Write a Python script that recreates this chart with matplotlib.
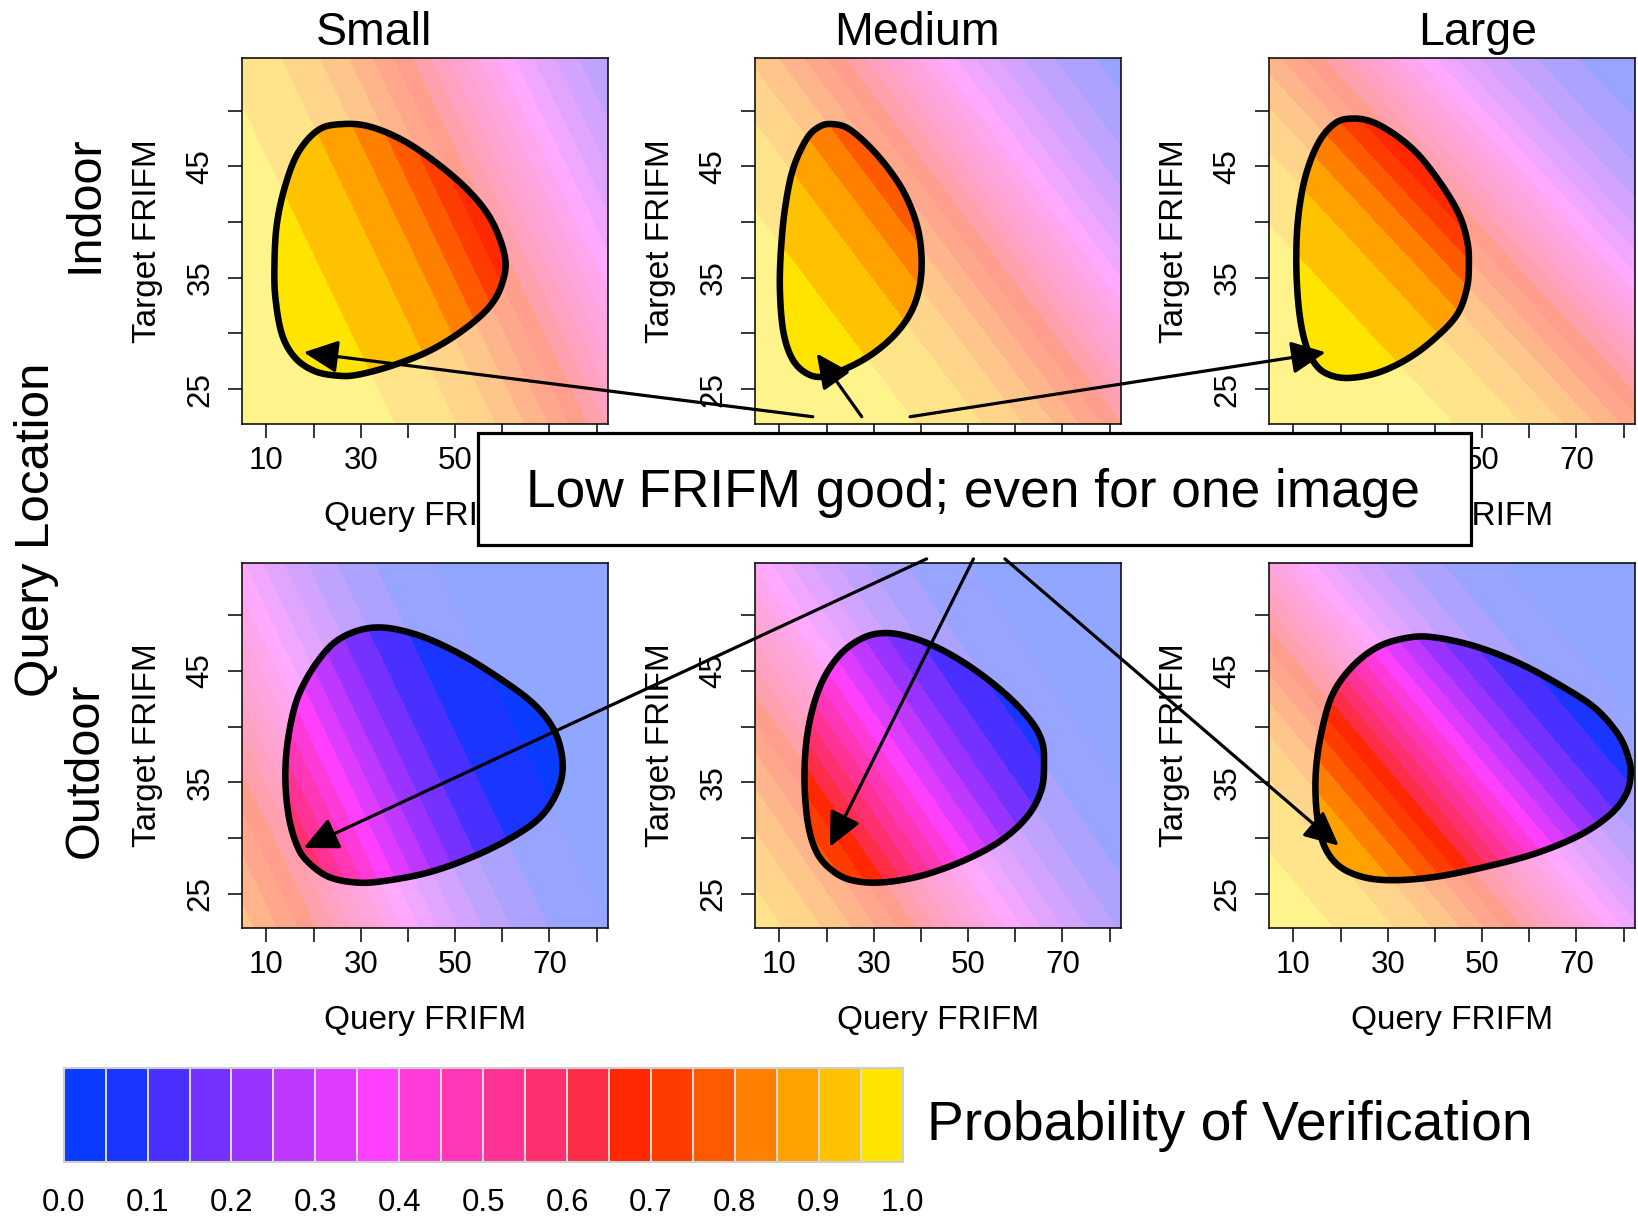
import matplotlib.pyplot as plt
import numpy as np
from matplotlib.colors import ListedColormap, to_rgb
from matplotlib.patches import Polygon, Rectangle, ConnectionPatch

plt.rcParams['font.family'] = ['Liberation Sans', 'DejaVu Sans']

# 20 colour bands for the probability, 0.05 wide each
band_colors = ['#0A3CFF', '#1A35FF', '#4A30FF', '#7431FF', '#9A33FF',
               '#BE38FF', '#DD3CFF', '#FF40FF', '#FF3AD8', '#FF36B6',
               '#FF3296', '#FF3070', '#FF2E48', '#FF2800', '#FF3C00',
               '#FF5A00', '#FF8000', '#FFA200', '#FFC200', '#FFE400']
levels = np.linspace(0, 1, 21)

sizes = ['Small', 'Medium', 'Large']
places = ['Indoor', 'Outdoor']

# logistic fit per panel (rows: Indoor, Outdoor; cols: Small, Medium, Large)
fit_intercept = [[6.46, 7.09, 7.75], [3.21, 4.75, 6.55]]
fit_query = [[-0.0568, -0.0533, -0.0522], [-0.0572, -0.0553, -0.0580]]
fit_target = [[-0.0644, -0.0949, -0.1148], [-0.0646, -0.0901, -0.1160]]

# outline of the observed FRIFM pairs in each panel
si_query = [60.6, 59.9, 57.1, 51.4, 44.4, 36.6, 29.5, 25.3, 20.3, 16.1, 13.3, 11.9,
            11.7, 12.2, 14.0, 16.8, 21.1, 26.0, 31.7, 38.7, 45.8, 52.9, 57.8]
si_target = [36.8, 34.4, 32.3, 30.2, 28.4, 27.1, 26.3, 26.2, 26.6, 27.8, 29.9, 33.2,
             36.2, 39.8, 43.3, 46.3, 48.3, 48.8, 48.6, 47.4, 45.4, 42.8, 40.1]
mi_query = [40.1, 39.8, 38.0, 34.5, 29.5, 23.9, 18.9, 15.4, 12.6, 10.8, 10.1, 10.3,
            11.2, 12.9, 15.8, 18.6, 21.4, 24.6, 28.8, 33.1, 36.6, 39.1]
mi_target = [37.1, 34.4, 32.0, 29.9, 28.1, 26.8, 26.1, 26.5, 27.8, 30.2, 33.8, 37.4,
             41.3, 44.8, 47.5, 48.6, 48.8, 48.4, 46.9, 44.8, 42.5, 39.8]
li_query = [47.2, 46.8, 44.7, 40.1, 34.5, 28.1, 21.8, 17.5, 14.7, 12.6, 11.2, 10.6,
            11.0, 12.6, 15.4, 18.9, 22.5, 26.7, 31.7, 36.6, 41.5, 45.1, 46.8]
li_target = [36.5, 34.1, 31.7, 29.6, 27.8, 26.5, 26.0, 26.3, 27.2, 29.0, 32.0, 36.2,
             40.4, 44.2, 47.2, 48.9, 49.3, 49.0, 47.8, 46.0, 43.3, 40.7, 38.4]
so_query = [72.8, 71.9, 68.4, 62.7, 54.3, 44.4, 34.5, 28.8, 23.2, 18.9, 16.5, 14.7,
            14.0, 14.7, 16.8, 21.1, 26.0, 33.1, 41.5, 50.7, 59.9, 67.0, 71.2]
so_target = [36.8, 34.4, 32.0, 30.2, 28.4, 26.9, 26.1, 26.0, 26.5, 27.8, 29.3, 32.0,
             35.6, 39.2, 42.8, 46.0, 48.0, 48.9, 48.3, 46.6, 44.2, 41.9, 39.5]
mo_query = [66.1, 65.6, 62.7, 57.1, 49.3, 40.1, 31.7, 25.3, 21.1, 17.9, 16.0, 15.3,
            16.1, 18.6, 22.5, 27.4, 32.4, 38.0, 44.4, 51.4, 58.5, 63.5, 65.7]
mo_target = [36.8, 34.4, 32.0, 29.8, 28.0, 26.6, 26.0, 26.2, 27.1, 28.7, 31.4, 35.6,
             39.8, 43.6, 46.3, 47.9, 48.4, 48.0, 46.9, 45.1, 42.7, 40.4, 38.6]
lo_query = [81.5, 80.4, 76.9, 70.5, 61.3, 50.7, 40.1, 31.0, 24.6, 19.6, 16.5, 15.0,
            14.7, 15.8, 18.2, 22.5, 28.1, 34.5, 40.1, 48.6, 57.8, 67.0, 74.1, 79.0, 81.1]
lo_target = [35.6, 33.8, 32.0, 30.2, 28.6, 27.4, 26.5, 26.2, 26.5, 27.5, 29.3, 32.0,
             35.6, 39.2, 42.8, 45.4, 47.2, 48.0, 48.0, 47.2, 45.7, 43.6, 41.6, 39.2, 37.1]

hull_query = [[si_query, mi_query, li_query], [so_query, mo_query, lo_query]]
hull_target = [[si_target, mi_target, li_target], [so_target, mo_target, lo_target]]

# low-FRIFM corner that the callout points at
arrow_query = [[17.9, 17.9, 16.8], [17.9, 20.7, 19.6]]
arrow_target = [[28.3, 28.2, 28.3], [29.1, 29.2, 29.3]]

x_range = (4.8, 82.4)
y_range = (21.9, 54.7)


def closed_curve(px, py, n=30):
    # periodic Catmull-Rom spline through the outline points
    pts = np.column_stack([px, py]).astype(float)
    m = len(pts)
    t = np.linspace(0, 1, n, endpoint=False)[:, None]
    segs = []
    for i in range(m):
        p0, p1, p2, p3 = pts[i - 1], pts[i], pts[(i + 1) % m], pts[(i + 2) % m]
        segs.append(0.5 * (2 * p1 + (p2 - p0) * t
                           + (2 * p0 - 5 * p1 + 4 * p2 - p3) * t ** 2
                           + (3 * p1 - p0 - 3 * p2 + p3) * t ** 3))
    return np.vstack(segs)


pale_colors = [tuple(1 - 0.45 * (1 - np.array(to_rgb(c)))) for c in band_colors]

fig = plt.figure(figsize=(16.38, 12.20), dpi=100)

lefts = [0.1477, 0.4609, 0.7747]
bottoms = [0.6528, 0.2393]
pw, ph = 0.2234, 0.2993

# where each callout arrow leaves the box (figure fraction)
tails = [[(0.4962, 0.6584), (0.5261, 0.6584), (0.5556, 0.6584)],
         [(0.5657, 0.5419), (0.5943, 0.5419), (0.6135, 0.5419)]]

qq, tt = np.meshgrid(np.linspace(*x_range, 400), np.linspace(*y_range, 400))

for r in range(2):
    for c in range(3):
        ax = fig.add_axes([lefts[c], bottoms[r], pw, ph])
        eta = fit_intercept[r][c] + fit_query[r][c] * qq + fit_target[r][c] * tt
        prob = 1 / (1 + np.exp(-eta))

        ax.contourf(qq, tt, prob, levels=levels, colors=pale_colors)
        curve = closed_curve(hull_query[r][c], hull_target[r][c])
        inner = ax.contourf(qq, tt, prob, levels=levels, colors=band_colors)
        clip = Polygon(curve, closed=True, transform=ax.transData)
        inner.set_clip_path(clip)
        ax.add_patch(Polygon(curve, closed=True, fill=False, ec='black',
                             lw=4.7, joinstyle='round', zorder=3))

        ax.set_xlim(*x_range)
        ax.set_ylim(*y_range)
        ax.set_xticks(np.arange(10, 81, 10))
        ax.set_xticklabels(['10', '', '30', '', '50', '', '70', ''])
        ax.set_yticks(np.arange(25, 51, 5))
        ax.set_yticklabels(['25', '', '35', '', '45', ''])
        ax.tick_params(direction='out', length=10, width=1.1, labelsize=22.5,
                       colors='black')
        ax.tick_params(axis='x', pad=6)
        ax.tick_params(axis='y', pad=9, labelrotation=90)
        for lab in ax.get_yticklabels():
            lab.set_va('center')
        for sp in ax.spines.values():
            sp.set_linewidth(1.1)

        ax.set_xlabel('Query FRIFM', fontsize=24, va='center')
        ax.xaxis.set_label_coords(0.5, -0.254)
        ax.set_ylabel('Target FRIFM', fontsize=24, va='center')
        ax.yaxis.set_label_coords(-0.258, 0.5)

        con = ConnectionPatch(
            xyA=tails[r][c], coordsA='figure fraction',
            xyB=(arrow_query[r][c], arrow_target[r][c]), coordsB='data', axesB=ax,
            arrowstyle='-|>,head_length=2.1,head_width=1.0', mutation_scale=10,
            lw=2.3, color='black', shrinkA=0, shrinkB=0, zorder=7)
        fig.add_artist(con)

# column and row headings
for c, name in enumerate(sizes):
    fig.text([0.2281, 0.5598, 0.9023][c], 0.973, name, fontsize=33.5,
             ha='center', va='center')
fig.text(0.0519, 0.833, places[0], fontsize=35, rotation=90, ha='center', va='center')
fig.text(0.0519, 0.369, places[1], fontsize=35, rotation=90, ha='center', va='center')
fig.text(0.0222, 0.566, 'Query Location', fontsize=35.5, rotation=90,
         ha='center', va='center')

# callout box
fig.add_artist(Rectangle((0.2921, 0.5530), 0.6058, 0.0924, transform=fig.transFigure,
                         fc='white', ec='black', lw=2.3, zorder=5))
fig.text(0.594, 0.5955, 'Low FRIFM good; even for one image', fontsize=38.3,
         ha='center', va='center', zorder=6)

# colour key
cax = fig.add_axes([0.0389, 0.0479, 0.5121, 0.0770])
cax.pcolormesh(levels, [0, 1], np.arange(20)[None, :], cmap=ListedColormap(band_colors),
               edgecolors='#D9D9D9', linewidth=1.2)
cax.set_xlim(0, 1)
cax.set_ylim(0, 1)
cax.set_xticks(np.round(np.arange(0, 1.01, 0.1), 1))
cax.set_xticklabels([f'{v:.1f}' for v in np.arange(0, 1.01, 0.1)])
cax.set_yticks([])
cax.tick_params(axis='x', length=0, pad=19, labelsize=22.5)
for sp in cax.spines.values():
    sp.set_color('#CFCFCF')
    sp.set_linewidth(1.5)
fig.text(0.5657, 0.0772, 'Probability of Verification', fontsize=39.8,
         ha='left', va='center')

fig.savefig('out.png', dpi=100)
